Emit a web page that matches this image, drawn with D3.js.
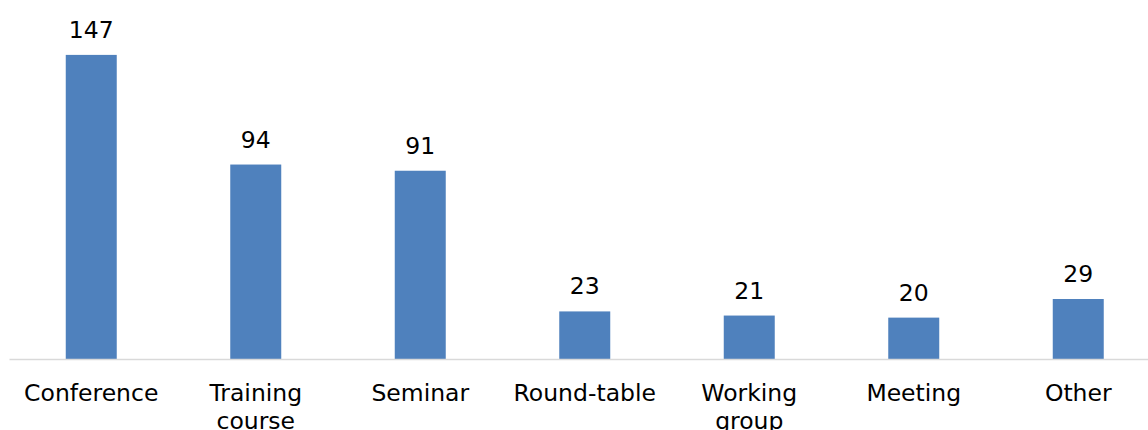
<!DOCTYPE html>
<html><head><meta charset="utf-8">
<script src="https://cdn.jsdelivr.net/npm/d3@7"></script>
<style>body{margin:0;background:#fff}svg{display:block}text{font-family:"DejaVu Sans",Verdana,sans-serif;fill:#000}</style>
</head><body><svg id="c" width="1148" height="430"></svg>
<script>
const categories = ["Conference","Training course","Seminar","Round-table","Working group","Meeting","Other"];
const values = [147,94,91,23,21,20,29];

const svg = d3.select("#c");
const x = d3.scaleBand().domain(categories).range([9, 1160.5]).paddingInner(0).paddingOuter(0);
const y = d3.scaleLinear().domain([0,160]).range([359, 28]);
const bw = x.bandwidth()*0.31;

svg.append("g").selectAll("rect").data(categories).join("rect")
  .attr("x", d => x(d) + x.bandwidth()/2 - bw/2)
  .attr("width", bw)
  .attr("y", (d,i) => y(values[i]))
  .attr("height", (d,i) => y(0) - y(values[i]))
  .attr("fill", "#4f81bd");

svg.append("g").selectAll("text").data(categories).join("text")
  .attr("x", d => x(d) + x.bandwidth()/2)
  .attr("y", (d,i) => y(values[i]) - 17)
  .attr("text-anchor","middle")
  .style("font-size","23.5px")
  .text((d,i) => values[i]);

const axis = d3.axisBottom(x).tickSize(0).tickPadding(0);
const ag = svg.append("g").attr("transform", `translate(0,${y(0)})`).call(axis);
ag.select(".domain").attr("stroke","#d9d9d9").attr("stroke-width",1.5);
ag.selectAll(".tick text").remove();
ag.selectAll(".tick").each(function(d){
  const words = d.split(" ");
  const t = d3.select(this).append("text").attr("text-anchor","middle").style("font-size","23.5px").attr("fill","#000");
  words.forEach((w,i) => t.append("tspan").attr("x",0).attr("y", 42 + i*28).text(w));
});
</script></body></html>
